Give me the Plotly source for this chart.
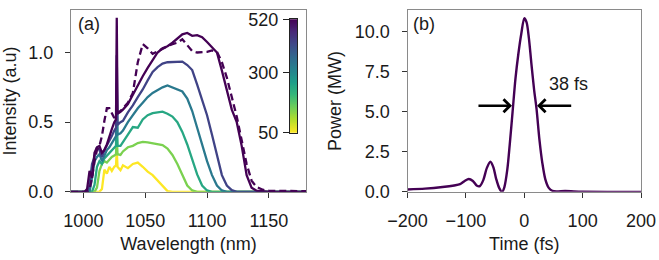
import numpy as np
import plotly.graph_objects as go
from plotly.colors import sample_colorscale

# ---------------- data: panel (a) spectra ----------------
wavelength = [990, 1001, 1003, 1005, 1007, 1009, 1011, 1013, 1015, 1017, 1019, 1021, 1023, 1025,
              1026.4, 1027.0, 1027.6, 1030, 1032, 1036, 1040, 1044, 1048, 1052, 1056, 1060, 1064,
              1068, 1072, 1076, 1080, 1084, 1088, 1092, 1096, 1100, 1104, 1108, 1112, 1116, 1120,
              1124, 1128, 1132, 1136, 1140, 1145, 1150, 1180]

pump_power = [50, 145, 240, 330, 425, 520]

spec_50 = [0, 0, 0, 0, 0, 0, 0, 0, 0.02, 0.16, 0.13, 0.18, 0.15, 0.18,
           0.19, 0.30, 0.18, 0.155, 0.19, 0.17, 0.20, 0.21, 0.18, 0.145, 0.12, 0.08, 0.044,
           0.005, 0, 0, 0, 0, 0, 0, 0, 0, 0, 0, 0, 0, 0,
           0, 0, 0, 0, 0, 0, 0, 0]
spec_145 = [0, 0, 0, 0, 0, 0, 0.03, 0.15, 0.20, 0.22, 0.21, 0.23, 0.25, 0.26,
            0.27, 0.42, 0.27, 0.265, 0.29, 0.32, 0.33, 0.35, 0.358, 0.355, 0.35, 0.343, 0.335,
            0.31, 0.265, 0.20, 0.12, 0.045, 0.01, 0, 0, 0, 0, 0, 0, 0, 0,
            0, 0, 0, 0, 0, 0, 0, 0]
spec_240 = [0, 0, 0, 0, 0, 0.05, 0.18, 0.22, 0.20, 0.24, 0.26, 0.28, 0.30, 0.32,
            0.33, 0.60, 0.33, 0.33, 0.36, 0.41, 0.465, 0.46, 0.52, 0.55, 0.565, 0.57, 0.575,
            0.56, 0.54, 0.50, 0.43, 0.34, 0.23, 0.125, 0.045, 0.01, 0, 0, 0, 0, 0,
            0, 0, 0, 0, 0, 0, 0, 0]
spec_330 = [0, 0, 0, 0, 0.10, 0.22, 0.25, 0.27, 0.22, 0.26, 0.30, 0.32, 0.35, 0.38,
            0.40, 0.78, 0.41, 0.42, 0.44, 0.50, 0.55, 0.60, 0.64, 0.68, 0.71, 0.73, 0.75,
            0.763, 0.75, 0.735, 0.72, 0.67, 0.58, 0.46, 0.34, 0.22, 0.12, 0.045, 0.01, 0, 0,
            0, 0, 0, 0, 0, 0, 0, 0]
spec_425 = [0, 0, 0, 0.05, 0.20, 0.25, 0.32, 0.30, 0.25, 0.30, 0.33, 0.37, 0.40, 0.44,
            0.46, 0.98, 0.48, 0.50, 0.51, 0.57, 0.62, 0.68, 0.735, 0.80, 0.86, 0.895, 0.92,
            0.93, 0.93, 0.93, 0.935, 0.91, 0.874, 0.77, 0.66, 0.55, 0.41, 0.26, 0.12, 0.045, 0.012,
            0, 0, 0, 0, 0, 0, 0, 0]
spec_520 = [0, 0, 0.02, 0.15, 0.10, 0.28, 0.32, 0.33, 0.28, 0.30, 0.34, 0.40, 0.45, 0.50,
            0.52, 1.25, 0.56, 0.575, 0.59, 0.63, 0.70, 0.765, 0.83, 0.89, 0.95, 1.00, 1.03,
            1.045, 1.07, 1.10, 1.13, 1.14, 1.12, 1.125, 1.11, 1.075, 1.04, 1.00, 0.87, 0.72, 0.59,
            0.50, 0.33, 0.12, 0.03, 0.008, 0.003, 0, 0]
spec_sim = [0, 0, 0, 0.02, 0.10, 0.22, 0.30, 0.33, 0.40, 0.51, 0.60, 0.60, 0.56, 0.53,
            0.55, 0.56, 0.57, 0.58, 0.60, 0.64, 0.71, 0.93, 1.06, 1.03, 0.99, 1.01, 1.03,
            1.045, 1.06, 1.07, 1.095, 1.05, 1.01, 1.00, 1.00, 1.005, 1.015, 1.005, 0.93, 0.82, 0.68,
            0.54, 0.37, 0.20, 0.08, 0.035, 0.015, 0.008, 0.005]

spectra = [spec_50, spec_145, spec_240, spec_330, spec_425, spec_520]

# ---------------- data: panel (b) pulse ----------------
time_fs = [-200, -170, -140, -120, -110, -102, -95, -88, -81, -76, -70, -64, -58, -53, -48, -43,
           -38, -34, -29, -25, -20, -15, -10, -5, 0, 4, 8, 12, 17, 21, 26, 31, 36, 42, 48, 55,
           70, 85, 100, 200]
power_mw = [0.15, 0.20, 0.30, 0.40, 0.48, 0.68, 0.80, 0.68, 0.38, 0.36, 0.75, 1.50, 1.88, 1.55,
            0.80, 0.25, 0.0, 0.30, 1.40, 2.90, 5.0, 7.1, 8.65, 9.9, 10.85, 10.6, 9.6, 8.1, 6.35,
            5.2, 3.27, 1.8, 0.8, 0.25, 0.07, 0.03, 0.06, 0.03, 0.01, 0.0]

fwhm_label = "38 fs"
cbar_ticks = [50, 300, 520]

# ---------------- figure ----------------
W, H = 659, 260
FONT = "Liberation Sans, Arial, sans-serif"
FS = 18
TXT = "#1a1a1a"
pmin, pmax = 50, 520

colors = sample_colorscale("Viridis_r", [(p - pmin) / (pmax - pmin) for p in pump_power])

fig = go.Figure()

for p, s, c in zip(pump_power, spectra, colors):
    fig.add_trace(go.Scatter(x=wavelength, y=s, mode="lines",
                             line=dict(color=c, width=2.3), xaxis="x", yaxis="y",
                             showlegend=False))
fig.add_trace(go.Scatter(x=wavelength, y=spec_sim, mode="lines",
                         line=dict(color=colors[-1], width=2.3, dash="7px,4px"),
                         xaxis="x", yaxis="y", showlegend=False))

fig.add_trace(go.Scatter(x=time_fs, y=power_mw, mode="lines",
                         line=dict(color="#440154", width=2.4, shape="spline", smoothing=0.8),
                         xaxis="x2", yaxis="y2", showlegend=False))

# manual colorbar (ticks on the left)
grad = list(np.linspace(pmin, pmax, 240))
fig.add_trace(go.Heatmap(z=[[g] for g in grad], y=grad, x=[0.5], colorscale="Viridis_r",
                         zmin=pmin, zmax=pmax, showscale=False, hoverinfo="skip",
                         xaxis="x3", yaxis="y3"))

ax_common = dict(showline=True, linecolor="#8a8a8a", linewidth=1, mirror=True,
                 ticks="outside", ticklen=5, tickcolor="#333333", tickwidth=1,
                 showgrid=False, zeroline=False, automargin=False,
                 tickfont=dict(size=FS, color=TXT, family=FONT),
                 title_font=dict(size=FS, color=TXT, family=FONT))

ydom = [63 / H, 1.0]
fig.update_layout(
    width=W, height=H, margin=dict(l=0, r=0, t=0, b=0),
    paper_bgcolor="white", plot_bgcolor="white",
    font=dict(family=FONT, size=FS, color=TXT),
    xaxis=dict(domain=[71 / W, 306 / W], range=[990, 1180], tickvals=[1000, 1050, 1100, 1150],
               anchor="y", title=dict(text="Wavelength (nm)", standoff=6),
               ticklabelstandoff=8, **ax_common),
    yaxis=dict(domain=ydom, range=[0, 1.305], tickvals=[0, 0.5, 1.0], tickformat=".1f",
               anchor="x", title=dict(text="Intensity (a.u)", standoff=8),
               ticklabelstandoff=8, **ax_common),
    xaxis2=dict(domain=[407.5 / W, 641 / W], range=[-200, 200], tickvals=[-200, -100, 0, 100, 200],
                anchor="y2", title=dict(text="Time (fs)", standoff=6),
                ticklabelstandoff=8, **ax_common),
    yaxis2=dict(domain=ydom, range=[0, 11.37], tickvals=[0, 2.5, 5, 7.5, 10], tickformat=".1f",
                anchor="x2", title=dict(text="Power (MW)", standoff=8),
                ticklabelstandoff=8, **ax_common),
    xaxis3=dict(domain=[290 / W, 297 / W], range=[0, 1], anchor="y3", showline=True,
                linecolor="#222", mirror=True, ticks="", showticklabels=False,
                showgrid=False, zeroline=False, fixedrange=True),
    yaxis3=dict(domain=[127 / H, 250 / H], range=[pmin, pmax], tickvals=cbar_ticks, anchor="x3",
                side="left", showline=True, linecolor="#222", mirror=True, ticks="outside",
                ticklen=6, tickcolor="#222", showgrid=False, zeroline=False,
                ticklabelstandoff=1,
                tickfont=dict(size=FS, color=TXT, family=FONT)),
)

fig.add_annotation(text="(a)", x=76 / W, y=1 - 15 / H, xref="paper", yref="paper",
                   xanchor="left", yanchor="middle", showarrow=False,
                   font=dict(size=FS, color=TXT, family=FONT))
fig.add_annotation(text="(b)", x=411 / W, y=1 - 15 / H, xref="paper", yref="paper",
                   xanchor="left", yanchor="middle", showarrow=False,
                   font=dict(size=FS, color=TXT, family=FONT))

# FWHM arrows
fig.add_annotation(x=-21, y=5.38, ax=-81, ay=5.38, xref="x2", yref="y2", axref="x2", ayref="y2",
                   showarrow=True, arrowhead=4, arrowsize=1, arrowwidth=2.5, arrowcolor="black",
                   text="")
fig.add_annotation(x=22, y=5.38, ax=83, ay=5.38, xref="x2", yref="y2", axref="x2", ayref="y2",
                   showarrow=True, arrowhead=4, arrowsize=1, arrowwidth=2.5, arrowcolor="black",
                   text="")
fig.add_annotation(text=fwhm_label, x=75, y=6.75, xref="x2", yref="y2", showarrow=False,
                   xanchor="center", yanchor="middle",
                   font=dict(size=FS, color=TXT, family=FONT))

fig.write_html("out.html",
               config={"displayModeBar": False},
               post_script="document.body.style.margin='0';document.body.style.padding='0';"
                           "document.body.style.overflow='hidden';")
